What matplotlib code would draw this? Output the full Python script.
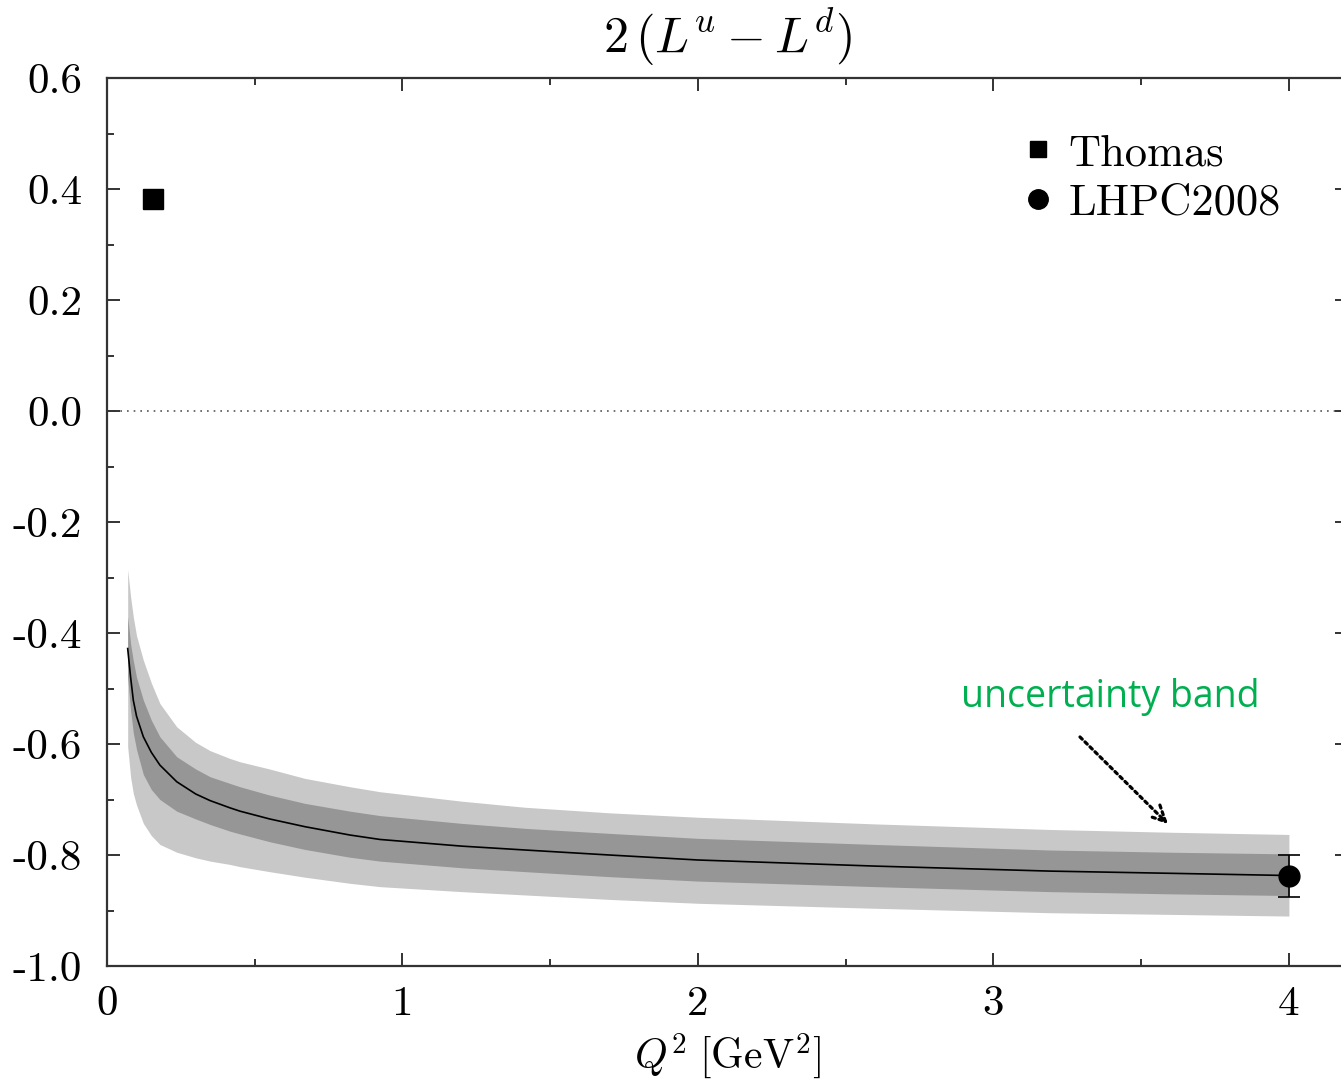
import numpy as np
import matplotlib
matplotlib.use("Agg")
import matplotlib.pyplot as plt
from matplotlib.lines import Line2D
from matplotlib.ticker import FuncFormatter, MultipleLocator

plt.rcParams['mathtext.fontset'] = 'cm'
plt.rcParams['font.family'] = ['cmr10', 'DejaVu Serif']
plt.rcParams['axes.unicode_minus'] = False

# ---- data ----
q2 = [0.07, 0.08, 0.089, 0.1, 0.123, 0.15, 0.179, 0.236, 0.3, 0.349, 0.416, 0.45, 0.55, 0.67,
      0.822, 0.924, 1.2, 1.415, 1.7, 2.0, 2.6, 3.19, 3.6, 4.0]
center = [-0.428, -0.48, -0.521, -0.55, -0.587, -0.615, -0.638, -0.668, -0.69, -0.702, -0.715, -0.721,
          -0.735, -0.749, -0.764, -0.772, -0.784, -0.791, -0.80, -0.809, -0.82, -0.829, -0.833, -0.837]
outer_hi = [-0.286, -0.335, -0.371, -0.405, -0.449, -0.49, -0.527, -0.569, -0.597, -0.612, -0.626, -0.632,
            -0.645, -0.662, -0.677, -0.686, -0.703, -0.714, -0.724, -0.732, -0.744, -0.754, -0.759, -0.763]
inner_hi = [-0.37, -0.42, -0.45, -0.48, -0.521, -0.557, -0.587, -0.623, -0.645, -0.659, -0.671, -0.677,
            -0.692, -0.707, -0.721, -0.729, -0.743, -0.752, -0.761, -0.770, -0.781, -0.791, -0.795, -0.798]
inner_lo = [-0.48, -0.54, -0.58, -0.61, -0.655, -0.682, -0.700, -0.721, -0.735, -0.745, -0.757, -0.762,
            -0.776, -0.790, -0.804, -0.811, -0.823, -0.830, -0.839, -0.847, -0.857, -0.866, -0.870, -0.873]
outer_lo = [-0.605, -0.66, -0.689, -0.71, -0.743, -0.765, -0.781, -0.795, -0.805, -0.811, -0.817, -0.821,
            -0.830, -0.840, -0.851, -0.857, -0.866, -0.872, -0.880, -0.887, -0.896, -0.904, -0.907, -0.910]

thomas_x, thomas_y = [0.156], [0.382]
lhpc_x, lhpc_y, lhpc_err = [4.0], [-0.838], [0.038]

xticks = [0, 1, 2, 3, 4]
yticks = [0.6, 0.4, 0.2, 0.0, -0.2, -0.4, -0.6, -0.8, -1.0]

# ---- figure ----
W, H = 1341, 1080
fig = plt.figure(figsize=(W / 100, H / 100), dpi=100)
ax = fig.add_axes([107 / W, (H - 966) / H, (1348 - 107) / W, 888 / H])

ax.fill_between(q2, outer_lo, outer_hi, color='#c8c8c8', lw=0, zorder=1)
ax.fill_between(q2, inner_lo, inner_hi, color='#969696', lw=0, zorder=2)
ax.plot(q2, center, color='black', lw=1.2, zorder=3)
ax.axhline(0.0, color='#555555', lw=1.2, ls=(0, (1, 3)), zorder=1)

ax.plot(thomas_x, thomas_y, 's', color='black', ms=14.5, zorder=5)
ax.errorbar(lhpc_x, lhpc_y, yerr=lhpc_err, fmt='o', color='black', ms=15,
            capsize=8, elinewidth=1.2, capthick=1.2, zorder=5)

ax.set_xlim(0, 4.2)
ax.set_ylim(-1.0, 0.6)
ax.set_xticks(xticks)
ax.set_yticks(yticks)
ax.xaxis.set_minor_locator(MultipleLocator(0.5))
ax.yaxis.set_minor_locator(MultipleLocator(0.1))
ax.xaxis.set_major_formatter(FuncFormatter(lambda v, p: f"{v:.0f}"))
ax.yaxis.set_major_formatter(FuncFormatter(lambda v, p: f"{v:.1f}".replace('-0.0', '0.0')))
ax.tick_params(which='both', direction='in', top=True, right=True, width=1.4, color='#333333')
ax.tick_params(which='major', length=9.5, labelsize=31)
ax.tick_params(axis='y', which='major', pad=18)
ax.tick_params(axis='x', which='major', pad=14)
ax.tick_params(which='minor', length=5)
for s in ax.spines.values():
    s.set_linewidth(1.6)
    s.set_color('#333333')

ax.set_title(r'$2\,(L^u - L^d)$', fontsize=36, pad=18)
ax.set_xlabel(r'$Q^2\;[\mathrm{GeV}^2]$', fontsize=30, labelpad=6)

handles = [Line2D([], [], marker='s', ls='none', color='black', ms=11),
           Line2D([], [], marker='o', ls='none', color='black', ms=14)]
ax.legend(handles, ['Thomas', 'LHPC2008'], loc='upper left', bbox_to_anchor=(0.7357, 0.937),
          frameon=False, fontsize=32, handlelength=0.8, handletextpad=0.3, labelspacing=0.22,
          borderaxespad=0, borderpad=0)

fig.text(1110 / W, 1 - 697 / H, 'uncertainty band', color='#00b050', fontsize=27,
         family=['Open Sans', 'DejaVu Sans'], ha='center', va='center')
ax.annotate('', xy=(1170 / W, 1 - 826 / H), xytext=(1078 / W, 1 - 735 / H),
            xycoords='figure fraction', textcoords='figure fraction',
            arrowprops=dict(arrowstyle='->', lw=2.3, ls=(0, (1, 1.2)), color='black',
                            mutation_scale=28))

fig.savefig('out.png', dpi=100)
